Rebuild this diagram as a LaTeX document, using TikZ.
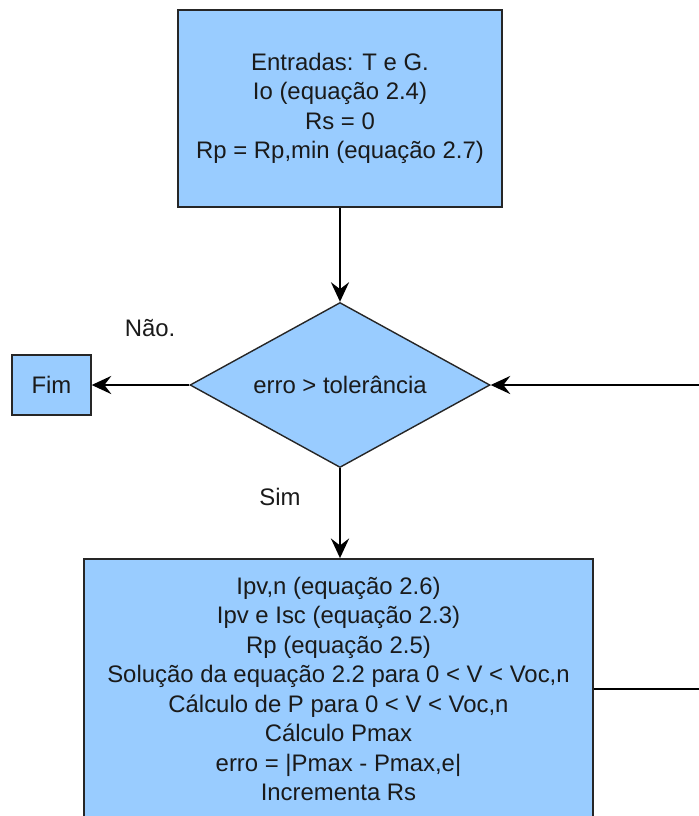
\documentclass[tikz,border=0pt]{standalone}
\usepackage{fontspec}
\setmainfont{Liberation Sans}
\usepackage{xcolor}
\usepackage{tikz}
\usetikzlibrary{arrows.meta, positioning, shapes.geometric}
\definecolor{caixa}{HTML}{99CCFF}
\definecolor{texto}{HTML}{1A1A1A}

\begin{document}
\begin{tikzpicture}[
  font=\fontsize{17}{21}\selectfont, text=texto,
  bloco/.style={draw=black!85, fill=caixa, line width=1pt, align=center, inner sep=0pt},
  decisao/.style={diamond, aspect=1.8, draw=black!85, fill=caixa, line width=1pt, inner sep=0pt},
  seta/.style={line width=1pt, -{Stealth[length=14pt, width=13pt, inset=5pt]}}
]
% \draw[help lines, dashed, red] (0,0) grid (18,-21);
\useasboundingbox (0,0) rectangle (17.475,-20.4);
\node[bloco, minimum width=8.1cm, minimum height=4.925cm] (entradas) at (8.5,-2.7125)
  {Entradas: T e G.\\Io (equação 2.4)\\Rs = 0\\Rp = Rp,min (equação 2.7)};
\node[decisao, minimum width=7.5cm, minimum height=4.125cm] (erro) at (8.5,-9.625) {erro > tolerância};
\node[bloco, minimum width=1.975cm, minimum height=1.5cm] (fim) at (1.2875,-9.625) {Fim};
\node[bloco, minimum width=12.725cm, minimum height=6.5cm] (calculo) at (8.4625,-17.22)
  {Ipv,n (equação 2.6)\\Ipv e Isc (equação 2.3)\\Rp (equação 2.5)\\
   Solução da equação 2.2 para 0 < V < Voc,n\\Cálculo de P para 0 < V < Voc,n\\
   Cálculo Pmax\\erro = |Pmax - Pmax,e|\\Incrementa Rs};
\node (nao) at (3.75,-8.2) {Não.};
\node (sim) at (7.0,-12.425) {Sim};
\coordinate (volta) at (18.2,-17.22);
\draw[seta] (entradas) -- (erro);
\draw[seta] (erro.west) -- (fim);
\draw[seta] (erro.south) -- (erro.south |- calculo.north);
\draw[seta] (calculo.east) -- (volta) |- (erro.east);
\end{tikzpicture}
\end{document}
